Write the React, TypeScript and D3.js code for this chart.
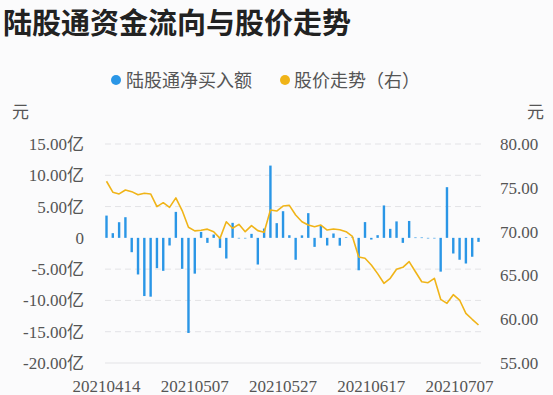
import React from "react";
import * as d3 from "d3";

// 陆股通 trading days shown in the chart
const dates = [
  "20210414", "20210415", "20210416", "20210419", "20210420", "20210421", "20210422", "20210423",
  "20210426", "20210427", "20210428", "20210429", "20210430", "20210506", "20210507", "20210510",
  "20210511", "20210512", "20210513", "20210514", "20210517", "20210518", "20210519", "20210520",
  "20210521", "20210524", "20210525", "20210526", "20210527", "20210528", "20210531", "20210601",
  "20210602", "20210603", "20210604", "20210607", "20210608", "20210609", "20210610", "20210611",
  "20210615", "20210616", "20210617", "20210618", "20210621", "20210622", "20210623", "20210624",
  "20210625", "20210628", "20210629", "20210630", "20210701", "20210702", "20210705", "20210706",
  "20210707", "20210708", "20210709", "20210712",
];

// net buy, 亿元
const netBuy = [
  3.56, 0.75, 2.5, 3.3, -2.29, -5.85, -9.3, -9.4, -4.84, -5.27,
  -1.22, 4.15, -4.95, -15.2, -5.72, 0.95, -0.8, 0.53, -1.6, -3.3,
  2.4, 0, 0, 0.64, -4.26, 1.49, 11.55, 2.35, 4.26, 0.42,
  -3.5, 0.4, 3.95, -1.44, 1.9, -1.22, 0.7, -1.25, 0.08, 0.08,
  -5.18, 2.52, -0.27, 0.43, 5.18, 1.44, 2.63, -0.8, 2.7, 0.06,
  0.06, 0, 0, -5.4, 8.1, -2.5, -3.5, -4.1, -3.02, -0.64,
];

// close price, 元
const price = [
  75.75, 74.5, 74.3, 74.75, 74.56, 74.2, 74.37, 74.3, 72.85, 73.3,
  72.77, 73.85, 72.4, 70.49, 70.08, 70.15, 70.28, 69.99, 69.23, 71.13,
  70.38, 70.83, 69.99, 70.68, 70.11, 69.92, 72.47, 72.35, 72.92, 73.0,
  71.9, 71.13, 70.75, 70.56, 70.75, 70.18, 70.3, 70.22, 69.99, 69.45,
  67.1, 66.95, 66.19, 65.2, 64.1, 64.67, 65.7, 65.92, 66.57, 65.42,
  64.28, 64.17, 64.67, 62.27, 61.81, 62.8, 62.19, 60.67, 59.99, 59.34,
];

const leftTicks = [15, 10, 5, 0, -5, -10, -15, -20];
const rightTicks = [80, 75, 70, 65, 60, 55];
const xLabels = ["20210414", "20210507", "20210527", "20210617", "20210707"];

const W = 553;
const H = 395;
const BLUE = "#2a96e6";
const GOLD = "#f0b418";
const TXT = "#555";
const NUMFONT = "'Liberation Serif', 'Noto Sans CJK SC', serif";

export default function App() {
  const x = d3.scalePoint<string>().domain(dates).range([106.5, 478.5]);
  const yL = d3.scaleLinear().domain([-20, 15]).range([363, 144]);
  const yR = d3.scaleLinear().domain([55, 80]).range([363, 144]);

  const line = d3
    .line<number>()
    .x((_, i) => x(dates[i]) as number)
    .y((d) => yR(d));

  const fmtL = (v: number) => (v === 0 ? "0" : v.toFixed(2) + "亿");

  return (
    <svg
      width={W}
      height={H}
      style={{ position: "absolute", left: 0, top: 0, background: "#fbfbfc" }}
    >
      <text x={3} y={34} fontSize={29} fontWeight="bold" fill="#222"
        fontFamily="'Noto Sans CJK SC', sans-serif">
        陆股通资金流向与股价走势
      </text>

      {/* legend */}
      <g fontFamily="'Noto Sans CJK SC', sans-serif" fontSize={18} fill={TXT}>
        <circle cx={116} cy={80} r={5} fill={BLUE} />
        <text x={126} y={86.5}>陆股通净买入额</text>
        <circle cx={285} cy={80} r={5} fill={GOLD} />
        <text x={294} y={86.5}>股价走势（右）</text>
      </g>

      <g fontFamily="'Noto Sans CJK SC', sans-serif" fontSize={17} fill={TXT}>
        <text x={12} y={118}>元</text>
        <text x={527} y={118}>元</text>
      </g>

      {/* grid */}
      {leftTicks.filter((t) => t !== 0).map((t) => (
        <line key={t} x1={105} x2={481} y1={yL(t)} y2={yL(t)}
          stroke="#e3e3e6" strokeWidth={1}
          strokeDasharray={t === -20 ? undefined : "6,4"} />
      ))}

      {/* left axis labels */}
      <g fontFamily={NUMFONT} fontSize={17} fill={TXT} textAnchor="end">
        {leftTicks.map((t) => (
          <text key={t} x={84} y={yL(t) + 6}>{fmtL(t)}</text>
        ))}
      </g>

      {/* right axis labels */}
      <g fontFamily={NUMFONT} fontSize={17} fill={TXT}>
        {rightTicks.map((t) => (
          <text key={t} x={500} y={yR(t) + 6}>{t.toFixed(2)}</text>
        ))}
      </g>

      {/* x labels */}
      <g fontFamily={NUMFONT} fontSize={17} fill={TXT} textAnchor="middle">
        {xLabels.map((d) => (
          <text key={d} x={x(d)} y={392}>{d}</text>
        ))}
      </g>

      {/* bars */}
      {netBuy.map((v, i) => (
        <rect key={i}
          x={(x(dates[i]) as number) - 1.2}
          width={2.4}
          y={Math.min(yL(v), yL(0))}
          height={Math.max(Math.abs(yL(v) - yL(0)), 0.6)}
          fill={BLUE} />
      ))}

      {/* price line */}
      <path d={line(price) || ""} fill="none" stroke={GOLD} strokeWidth={1.6}
        strokeLinejoin="round" />
    </svg>
  );
}
